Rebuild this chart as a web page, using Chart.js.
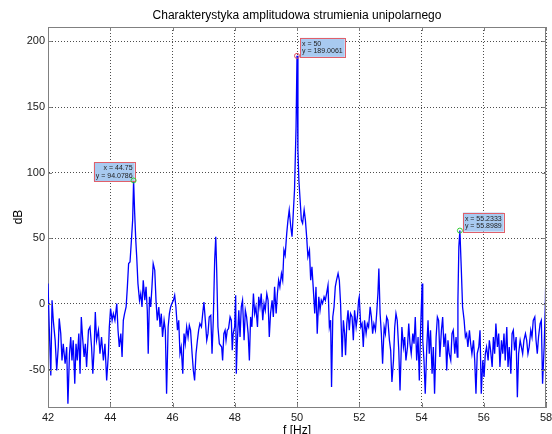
<!DOCTYPE html>
<html>
<head>
<meta charset="utf-8">
<script src="https://cdn.jsdelivr.net/npm/chart.js@4/dist/chart.umd.min.js"></script>
<style>
  body { margin: 0; background: #fff; }
  canvas { display: block; }
</style>
</head>
<body>
<canvas id="widmo" width="552" height="434"></canvas>
<script>
// widmo amplitudowe - czestotliwosc [Hz] i poziom [dB]
var freq = [
  42.00, 42.04, 42.09, 42.13, 42.17, 42.23, 42.28, 42.33, 42.36, 42.41, 42.45, 42.49, 42.55, 42.60, 42.64,
  42.69, 42.73, 42.77, 42.81, 42.86, 42.90, 42.94, 42.99, 43.03, 43.07, 43.11, 43.16, 43.20, 43.24, 43.30,
  43.35, 43.40, 43.44, 43.48, 43.52, 43.56, 43.62, 43.67, 43.72, 43.78, 43.83, 43.885, 43.94, 43.97, 44.01,
  44.06, 44.10, 44.15, 44.21, 44.25, 44.29, 44.34, 44.38, 44.42, 44.46, 44.51, 44.55, 44.59, 44.635, 44.68,
  44.72, 44.75, 44.785, 44.82, 44.85, 44.89, 44.94, 44.98, 45.02, 45.06, 45.11, 45.15, 45.19, 45.22, 45.26,
  45.30, 45.34, 45.38, 45.43, 45.47, 45.51, 45.56, 45.60, 45.64, 45.68, 45.73, 45.77, 45.81, 45.86, 45.90,
  45.94, 45.98, 46.03, 46.07, 46.11, 46.16, 46.20, 46.24, 46.28, 46.33, 46.37, 46.41, 46.455, 46.50, 46.54,
  46.58, 46.63, 46.67, 46.71, 46.755, 46.80, 46.84, 46.88, 46.93, 46.97, 47.01, 47.055, 47.10, 47.14, 47.18,
  47.23, 47.27, 47.31, 47.355, 47.39, 47.42, 47.46, 47.505,
  47.58, 47.61, 47.65, 47.69, 47.72, 47.76, 47.80, 47.85, 47.89, 47.92, 47.95, 47.997, 48.03, 48.05, 48.08,
  48.13, 48.17, 48.21, 48.25, 48.30, 48.34, 48.38, 48.43, 48.47, 48.51, 48.55, 48.60, 48.64, 48.68, 48.73,
  48.77, 48.81, 48.85, 48.90, 48.94, 48.98, 49.03, 49.07, 49.11, 49.15, 49.20, 49.24, 49.28, 49.33, 49.37,
  49.41, 49.45, 49.50, 49.54, 49.58, 49.62, 49.67, 49.71, 49.75, 49.80, 49.84, 49.88, 49.92, 49.97, 50.00,
  50.03, 50.06, 50.10, 50.14, 50.18, 50.23, 50.27, 50.31, 50.35, 50.40, 50.44, 50.48, 50.52, 50.57, 50.61,
  50.65, 50.70, 50.74, 50.78, 50.82, 50.87, 50.91, 50.95, 50.996, 51.04, 51.08, 51.11, 51.15, 51.19, 51.23,
  51.27, 51.32, 51.36, 51.40, 51.45, 51.49, 51.53, 51.56, 51.60, 51.64, 51.68, 51.72, 51.77, 51.81, 51.85,
  51.90, 51.94, 51.98, 52.00, 52.05, 52.09, 52.13, 52.17, 52.22, 52.26, 52.30, 52.35, 52.39, 52.43, 52.47,
  52.52, 52.56, 52.60, 52.63, 52.67, 52.71, 52.75, 52.80, 52.84, 52.88, 52.92, 52.97, 53.01, 53.05, 53.10,
  53.14, 53.18, 53.22, 53.27, 53.31,
  53.37, 53.42, 53.46, 53.50, 53.55, 53.59, 53.63, 53.67, 53.72, 53.76, 53.80, 53.845, 53.89, 53.93, 53.97,
  54.02, 54.04, 54.08, 54.12, 54.17, 54.21, 54.25, 54.29, 54.34, 54.38, 54.42, 54.47, 54.51, 54.55, 54.59,
  54.64, 54.68, 54.72, 54.77, 54.81, 54.85, 54.89, 54.94, 54.98, 55.02, 55.07, 55.11, 55.15, 55.17, 55.20,
  55.2333, 55.28, 55.32, 55.37, 55.41, 55.45, 55.49, 55.54, 55.58, 55.62, 55.67, 55.71, 55.75, 55.79, 55.84,
  55.88, 55.92, 55.97, 56.01, 56.05, 56.09, 56.14, 56.18, 56.22, 56.27, 56.31, 56.35, 56.39, 56.44, 56.48,
  56.52, 56.57, 56.61, 56.65, 56.69, 56.74, 56.78, 56.82, 56.87, 56.91, 56.95, 56.99, 57.04, 57.08, 57.12,
  57.17, 57.21, 57.25, 57.29, 57.34, 57.38, 57.42, 57.46, 57.51, 57.55, 57.59, 57.64, 57.68, 57.72, 57.76,
  57.81, 57.85, 57.89, 57.94, 57.98, 58.00
]

var dB = [
  15.5, -17.5, -54.4, 2.8, -12.5, -27.7, -50.6, -32.8, -11, -22.6, -43, -30.3, -45.5, -32.8, -76,
  -37.9, -25.2, -43, -27.7, -60.8, -30.3, -43, -22.6, -53.2, -9.9, -25.2, -40.4, -30.3, -48, -20,
  -17.5, -32.8, -53.2, -35.4, -6.1, -27.7, -20, -37.9, -25.2, -43, -30.3, -58.3, -37.9, -17.5, -3.5,
  -12.5, -7.4, -12.5, 0.3, -20, -32.8, -22.6, -40.4, -12.5, -7.4, -2.3, 13, 30.8, 32, 48.6,
  63.9, 94.0786, 69, 48.6, 35.9, 15.5, 2.8, 7.9, -2.3, 18.1, 2.8, 13, -4.8, -37.9, 5.4,
  -2.3, 13, 30.8, 25.7, 2.8, -12.5, -2.3, -17.5, -7.4, -25.2, -12.5, -20, -68.4, -17.5, -7.4,
  -2.3, 0.3, 2.8, 6.6, -2.3, -20, -12.5, -37.9, -32.8, -53.2, -22.6, -30.3, -17.5, -25.2, -16.3,
  -20, -37.9, -50.6, -58.3, -37.9, -27.7, -20, -15, -17.5, -7.4, 1.5, -12.5, -27.7, -22.6, -9.9,
  -8.6, -37.9, -12.5, 33.4, 51.2, 25.7, -17.5, -30.3,
  -32.8, -43, -22.6, -20, -27.7, -20, -18.8, -9.9, -12.4, -35.3, -22.6, -17.5, 6.7, -53.1, -30.2,
  -4.8, -25.1, -2.2, 2.8, -27.7, -4.8, -9.9, -22.6, -43, -9.9, -17.5, 7.9, -7.3, -2.2, -17.5,
  5.4, -2.2, 7.9, -12.4, 0.3, -4.8, 7.9, 2.8, -25.1, -7.3, 2.8, -9.9, 13, -7.3, 7.9,
  18.1, 13, 23.2, 18.1, 41, 37.2, 53.8, 63.9, 71.6, 58.8, 51.2, 69, 86.8, 135, 189.0061,
  117.4, 94.5, 79.2, 63.9, 61.4, 71.6, 63.9, 51.2, 35.9, 41, 18.1, 28.3, 13, -7.3, 13,
  -22.6, 5.4, -4.8, 2.8, 0.3, 5.4, 2.8, 7.9, 14.3, -17.5, -12.4, -63.3, -9.9, -2.2, 13,
  18.1, 23.2, 18.1, 0.3, -40.4, -12.4, -22.6, -39.1, -15, -4.8, -20, -7.3, -9.9, -27.7, -4.8,
  -17.5, -9.9, 2.8, 5.4, -17.5, -15, -32.8, -12.4, -22.6, -15, -17.5, -2.2, -9.9, -22.6, -15,
  -20, -7.3, 7.9, 27, -7.3, -22.6, -45.5, -17.5, -22.6, -9.9, -12.4, -27.7, -35.3, -59.5, -43,
  -17.5, -7.3, -12.4, -35.3, -65.9,
  -17.5, -32.8, -25.2, -43, -32.8, -15, -30.3, -37.9, -22.6, -30.3, -9.9, -43, -25.2, -58.3, -20,
  15.5, -27.7, -43, -68.4, -32.8, -12.5, -37.9, -20, -53.2, -32.8, -68.4, -25.2, -9.9, -12.5, -40.4,
  -20, -9.9, -32.8, -22.6, -50.6, -27.7, -37.9, -43, -22.6, -20, -37.9, -25.2, -40.4, 2.8, 43.5,
  55.8989, 25.7, -2.3, -12.5, -25.2, -22.6, -32.8, -20, -30.3, -37.9, -27.7, -43, -68.4, -37.9, -32.8,
  -20, -68.4, -43, -55.7, -37.9, -32.8, -43, -27.7, -35.4, -48, -25.2, -37.9, -15, -32.8, -22.6,
  -48, -27.7, -37.9, -22.6, -43, -17.5, -48, -32.8, -53.2, -22.6, -20, -35.4, -25.2, -71, -37.9,
  -27.7, -32.8, -37.9, -27.7, -22.6, -27.7, -37.9, -32.8, -20, -25.2, -12.5, -9.9, -27.7, -37.9, -25.2,
  -15, -12.5, -60.8, -32.8, 0.3, 33.4
]

var xTicks = [42, 44, 46, 48, 50, 52, 54, 56, 58]
var yTicks = [-50, 0, 50, 100, 150, 200]

// znaczniki (data tips) na pikach
var tipX = [44.75, 50, 55.2333]
var tipY = [94.0786, 189.0061, 55.8989]
var tipSide = ['left', 'right', 'right']
var tipMark = ['#33cc33', '#e05060', '#33cc33']

var font = 'Liberation Sans, Arial, Helvetica, sans-serif'

var points = freq.map(function(f, i){ return {x: f, y: dB[i]} })

var decor = {
    id: 'decor',
    afterDraw: function(chart){
        var ctx = chart.ctx
        var a = chart.chartArea
        ctx.save()

        // ramka i kreski podzialki do srodka
        ctx.strokeStyle = '#808080'
        ctx.lineWidth = 1
        ctx.beginPath()
        ctx.moveTo(a.left, a.top + 0.5); ctx.lineTo(a.right, a.top + 0.5)
        ctx.moveTo(a.right - 0.5, a.top); ctx.lineTo(a.right - 0.5, a.bottom)
        var xs = chart.scales.x, ys = chart.scales.y
        xTicks.forEach(function(v){
            var p = Math.round(xs.getPixelForValue(v)) + 0.5
            ctx.moveTo(p, a.bottom); ctx.lineTo(p, a.bottom - 4)
            ctx.moveTo(p, a.top); ctx.lineTo(p, a.top + 4)
        })
        yTicks.forEach(function(v){
            var p = Math.round(ys.getPixelForValue(v)) + 0.5
            ctx.moveTo(a.left, p); ctx.lineTo(a.left + 4, p)
            ctx.moveTo(a.right, p); ctx.lineTo(a.right - 4, p)
        })
        ctx.stroke()

        // tytul i opisy osi
        ctx.fillStyle = '#000'
        ctx.textAlign = 'center'
        ctx.textBaseline = 'middle'
        ctx.font = '12px ' + font
        ctx.fillText('Charakterystyka amplitudowa strumienia unipolarnego', (a.left + a.right) / 2, 16)
        ctx.fillText('f [Hz]', (a.left + a.right) / 2, 431)
        ctx.save()
        ctx.translate(19, (a.top + a.bottom) / 2)
        ctx.rotate(-Math.PI / 2)
        ctx.fillText('dB', 0, 0)
        ctx.restore()

        // data tips
        ctx.font = '7px ' + font
        for (var i = 0; i < tipX.length; i++){
            var px = xs.getPixelForValue(tipX[i])
            var py = ys.getPixelForValue(tipY[i])
            var l1 = 'x = ' + tipX[i]
            var l2 = 'y = ' + tipY[i]
            var w = Math.max(ctx.measureText(l1).width, ctx.measureText(l2).width) + 4
            var h = 19
            var bx = tipSide[i] == 'left' ? px + 1 - w : px + 3
            var by = py - 18
            ctx.fillStyle = '#a8caf0'
            ctx.fillRect(bx, by, w, h)
            ctx.strokeStyle = '#e0606a'
            ctx.lineWidth = 1
            ctx.strokeRect(Math.round(bx) + 0.5, Math.round(by) + 0.5, Math.round(w), h)
            ctx.fillStyle = '#222'
            ctx.textBaseline = 'middle'
            if (tipSide[i] == 'left'){
                ctx.textAlign = 'right'
                ctx.fillText(l1, bx + w - 2, by + 6)
                ctx.fillText(l2, bx + w - 2, by + 13.5)
            } else {
                ctx.textAlign = 'left'
                ctx.fillText(l1, bx + 2, by + 6)
                ctx.fillText(l2, bx + 2, by + 13.5)
            }
            ctx.strokeStyle = tipMark[i]
            ctx.beginPath()
            ctx.arc(px, py, 2.5, 0, Math.PI * 2)
            ctx.stroke()
        }
        ctx.restore()
    }
}

var ctx = document.getElementById('widmo').getContext('2d')
var widmo = new Chart(ctx, {
    type: 'scatter',
    data: {
        datasets: [
            {
                data: points,
                showLine: true,
                borderColor: '#0000ff',
                borderWidth: 1.3,
                pointRadius: 0,
                tension: 0
            }
        ]
    },
    options: {
        responsive: false,
        animation: false,
        layout: { padding: { top: 27, right: 0, left: 0, bottom: 0 } },
        plugins: { legend: { display: false }, tooltip: { enabled: false } },
        scales: {
            x: {
                type: 'linear',
                min: 42,
                max: 58,
                afterBuildTicks: function(s){ s.ticks = xTicks.map(function(v){ return {value: v} }) },
                afterFit: function(s){ s.height = 27; s.paddingRight = 6 },
                ticks: { color: '#1a1a1a', padding: 4, maxRotation: 0, font: { family: font, size: 11 } },
                grid: { color: '#4d4d4d', drawTicks: false, lineWidth: 1 },
                border: { color: '#808080', dash: [1, 2] }
            },
            y: {
                min: -78.5,
                max: 211,
                afterBuildTicks: function(s){ s.ticks = yTicks.map(function(v){ return {value: v} }) },
                afterFit: function(s){ s.width = 48 },
                ticks: { color: '#1a1a1a', padding: 3, font: { family: font, size: 11 } },
                grid: { color: '#4d4d4d', drawTicks: false, lineWidth: 1 },
                border: { color: '#808080', dash: [1, 2] }
            }
        }
    },
    plugins: [decor]
})
</script>
</body>
</html>
